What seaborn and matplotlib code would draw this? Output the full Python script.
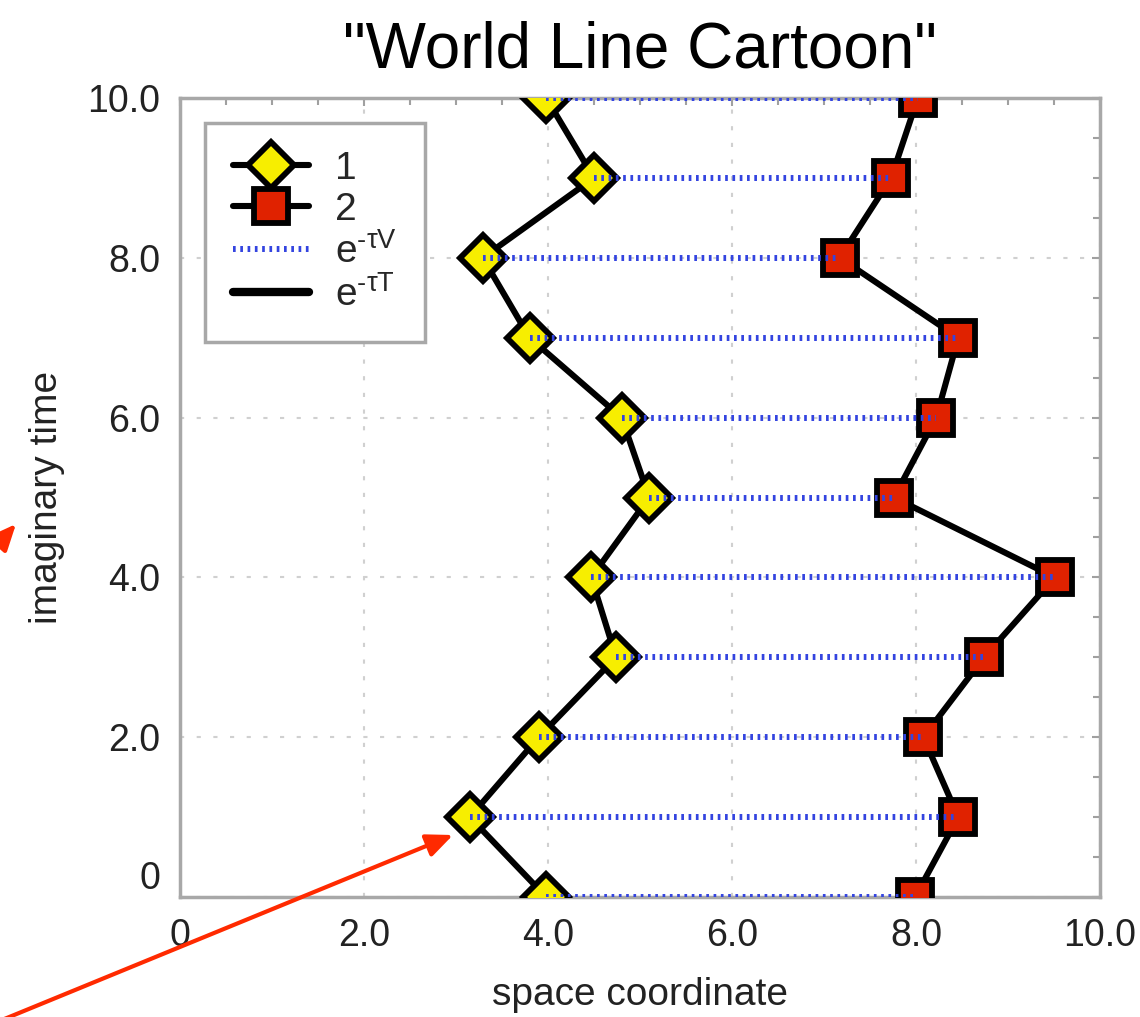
import numpy as np
import pandas as pd
import matplotlib
matplotlib.use("Agg")
import matplotlib.pyplot as plt
import seaborn as sns
from matplotlib.lines import Line2D
from matplotlib.ticker import MultipleLocator, FixedLocator, FuncFormatter
from matplotlib.patches import FancyArrowPatch

# ---- data ----
tau = [0, 1, 2, 3, 4, 5, 6, 7, 8, 9, 10]
particle1 = [3.98, 3.15, 3.90, 4.74, 4.47, 5.10, 4.80, 3.80, 3.29, 4.50, 3.98]
particle2 = [7.99, 8.46, 8.08, 8.74, 9.51, 7.76, 8.22, 8.46, 7.17, 7.73, 8.02]
legend_labels = ["1", "2", r"$\mathregular{e^{‐τV}}$", r"$\mathregular{e^{‐τT}}$"]
x_ticks = [0, 2, 4, 6, 8, 10]
y_ticks = [0, 2, 4, 6, 8, 10]

sns.set_theme(style="white")
plt.rcParams["font.family"] = ["Liberation Sans", "DejaVu Sans"]
plt.rcParams["mathtext.fontset"] = "custom"
plt.rcParams["mathtext.rm"] = "Liberation Sans"
plt.rcParams["mathtext.it"] = "Liberation Sans"

df1 = pd.DataFrame({"x": particle1, "t": tau})
df2 = pd.DataFrame({"x": particle2, "t": tau})

fig = plt.figure(figsize=(11.4, 10.17), dpi=100)
ax = fig.add_axes([180 / 1140, 1 - 897 / 1017, 920 / 1140, 799 / 1017])

LW = 4.4
MEW = 4.2
line_kw = dict(color="black", linewidth=LW, markeredgecolor="black",
               markeredgewidth=MEW, sort=False, estimator=None, orient="y")
sns.lineplot(data=df1, x="x", y="t", ax=ax, marker="D", markersize=23,
             markerfacecolor="#f7ee00", zorder=3, **line_kw)
sns.lineplot(data=df2, x="x", y="t", ax=ax, marker="s", markersize=25,
             markerfacecolor="#e02200", zorder=3, **line_kw)

ax.hlines(tau, particle1, particle2, colors="#3344e0", linewidth=4.3,
          linestyles=(0, (0.45, 0.77)), zorder=4)

ax.set_xlim(0, 10)
ax.set_ylim(0, 10)
ax.xaxis.set_major_locator(FixedLocator(x_ticks))
ax.yaxis.set_major_locator(FixedLocator(y_ticks))
ax.xaxis.set_minor_locator(MultipleLocator(0.5))
ax.yaxis.set_minor_locator(MultipleLocator(0.5))
fmt = FuncFormatter(lambda v, p: "0" if abs(v) < 1e-9 else f"{v:.1f}")
ax.xaxis.set_major_formatter(fmt)
ax.yaxis.set_major_formatter(fmt)

ax.grid(True, which="major", color="#d0d0d0", linewidth=1.5,
        linestyle=(0, (2, 6)))
ax.set_axisbelow(True)
for s in ax.spines.values():
    s.set_color("#a8a8a8")
    s.set_linewidth(2.5)
ax.tick_params(which="both", direction="in", top=True, right=True,
               color="#a0a0a0", width=1.5)
ax.tick_params(which="major", length=6)
ax.tick_params(which="minor", length=5)
ax.tick_params(axis="x", which="major", labelsize=27, pad=15, labelcolor="#222222")
ax.tick_params(axis="y", which="major", labelsize=27, pad=14, labelcolor="#222222")
ax.yaxis.get_major_ticks()[0].label1.set_va("bottom")

ax.set_xlabel("space coordinate", fontsize=28, labelpad=17, color="#222222")
ax.set_ylabel("imaginary time", fontsize=28, labelpad=16, color="#222222")
ax.set_title('"World Line Cartoon"', fontsize=46, pad=22, color="black")

handles = [
    Line2D([], [], color="black", lw=LW, marker="D", markersize=23,
           markerfacecolor="#f7ee00", markeredgecolor="black", markeredgewidth=MEW),
    Line2D([], [], color="black", lw=LW, marker="s", markersize=25,
           markerfacecolor="#e02200", markeredgecolor="black", markeredgewidth=MEW),
    Line2D([], [], color="#3344e0", lw=4.3, linestyle=(0, (0.45, 0.77))),
    Line2D([], [], color="black", lw=6.0),
]
leg = ax.legend(handles, legend_labels, loc="upper left",
                bbox_to_anchor=(25 / 920, 1 - 25 / 799), borderaxespad=0,
                fontsize=28, labelspacing=0.13, handlelength=1.95,
                handletextpad=0.68, borderpad=0.72, fancybox=False,
                frameon=True, framealpha=1, edgecolor="#a8a8a8")
leg.get_frame().set_linewidth(2.5)
leg.set_zorder(10)

red = "#ff2a00"
for tail, tip in [((-20, 1029), (453, 835)), ((-24, 569), (16, 524))]:
    a = FancyArrowPatch((tail[0] / 1140, 1 - tail[1] / 1017),
                        (tip[0] / 1140, 1 - tip[1] / 1017),
                        transform=fig.transFigure,
                        arrowstyle="-|>,head_length=0.8,head_width=0.35",
                        mutation_scale=20, color=red, linewidth=3,
                        shrinkA=0, shrinkB=0, clip_on=False)
    fig.add_artist(a)

fig.savefig("out.png", dpi=100)
